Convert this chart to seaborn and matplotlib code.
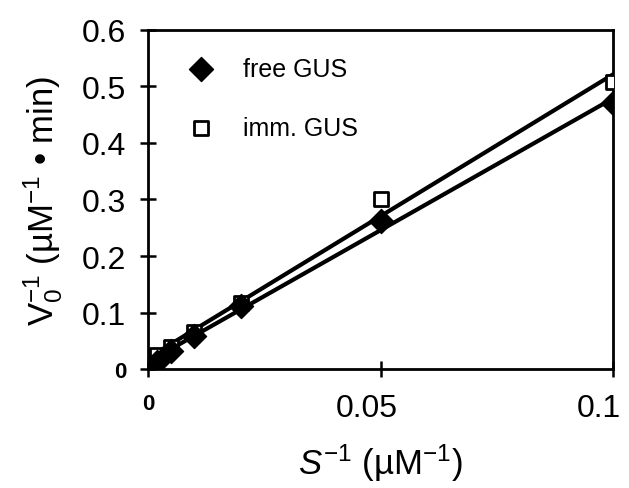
import numpy as np
import pandas as pd
import matplotlib
matplotlib.use("Agg")
import matplotlib.pyplot as plt
import matplotlib.transforms as mtransforms
import seaborn as sns

# Lineweaver-Burk data (1/S vs 1/V0)
inv_s = [0.002, 0.005, 0.01, 0.02, 0.05, 0.1]
free_gus = [0.012, 0.033, 0.058, 0.112, 0.262, 0.470]
imm_gus = [0.025, 0.040, 0.066, 0.117, 0.300, 0.508]

sns.set_style("ticks")
plt.rcParams["font.family"] = ["Liberation Sans", "DejaVu Sans"]
plt.rcParams["mathtext.fontset"] = "custom"
plt.rcParams["mathtext.rm"] = "Liberation Sans"
plt.rcParams["mathtext.it"] = "Liberation Sans:italic"
for key in ["text.color", "axes.labelcolor", "xtick.color", "ytick.color",
            "axes.edgecolor"]:
    plt.rcParams[key] = "black"

df = pd.DataFrame({"x": inv_s, "free": free_gus, "imm": imm_gus})

fig = plt.figure(figsize=(6.29, 4.89), dpi=100)
ax = fig.add_axes([0.235, 0.243, 0.740, 0.694])

sns.regplot(data=df, x="x", y="imm", ax=ax, ci=None, marker="s",
            scatter_kws=dict(s=90, facecolors="white", edgecolors="black",
                             linewidths=2, alpha=1, zorder=3),
            line_kws=dict(color="black", lw=3, zorder=2), color="black")
sns.regplot(data=df, x="x", y="free", ax=ax, ci=None, marker="D",
            scatter_kws=dict(s=150, color="black", alpha=1, zorder=4),
            line_kws=dict(color="black", lw=3, zorder=2), color="black")

# legend handles
ax.scatter([], [], marker="D", s=150, color="black", label="free GUS")
ax.scatter([], [], marker="s", s=90, facecolors="white", edgecolors="black",
           linewidths=2, label="imm. GUS")
ax.legend(loc="upper left", frameon=False, fontsize=18, handletextpad=1.2,
          labelspacing=1.41, borderaxespad=0, bbox_to_anchor=(0.065, 0.95),
          handlelength=1.0)

ax.set_xlim(0, 0.1)
ax.set_ylim(0, 0.6)
ax.set_xticks([0, 0.05, 0.1])
ax.set_xticklabels(["0", "0.05", "0.1"])
ax.set_yticks(np.arange(0, 0.61, 0.1))
ax.set_yticklabels(["0", "0.1", "0.2", "0.3", "0.4", "0.5", "0.6"])

ax.tick_params(axis="both", which="major", direction="inout", length=11,
               width=1.8, labelsize=23)
ax.tick_params(axis="x", pad=12)
ax.tick_params(axis="y", pad=10)

xl = ax.get_xticklabels()
yl = ax.get_yticklabels()
xl[0].set_fontweight("bold")
xl[0].set_fontsize(16)
yl[0].set_fontweight("bold")
yl[0].set_fontsize(16)
shift = mtransforms.ScaledTranslation(-14 / 100, 0, fig.dpi_scale_trans)
for lab in xl[1:]:
    lab.set_transform(lab.get_transform() + shift)

for side in ["top", "right", "left", "bottom"]:
    ax.spines[side].set_visible(True)
    ax.spines[side].set_linewidth(2)
    ax.spines[side].set_color("black")

ax.set_xlabel(r"$S^{-1}$ (µM$^{-1}$)", fontsize=25, labelpad=13)
ax.set_ylabel(r"$\mathrm{V}_0^{-1}$ (µM$^{-1}$ • min)", fontsize=25, labelpad=12)

fig.savefig("out.png", dpi=100)
plt.close(fig)
